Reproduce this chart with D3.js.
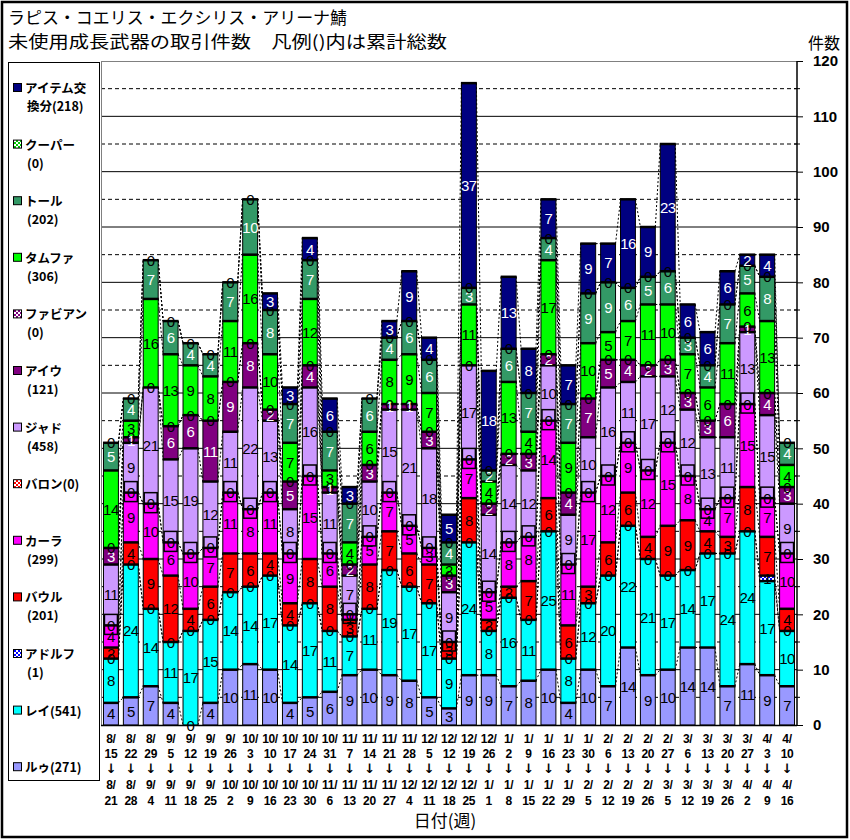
<!DOCTYPE html>
<html><head><meta charset="utf-8">
<script src="https://cdn.jsdelivr.net/npm/d3@7"></script>
<style>body{margin:0;background:#fff}</style>
</head><body><svg id="c" width="850" height="840"></svg>
<script>
const startLabels = ["8/15","8/22","8/29","9/5","9/12","9/19","9/26","10/3","10/10","10/17","10/24","10/31","11/7","11/14","11/21","11/28","12/5","12/12","12/19","12/26","1/2","1/9","1/16","1/23","1/30","2/6","2/13","2/20","2/27","3/6","3/13","3/20","3/27","4/3","4/10"];
const endLabels = ["8/21","8/28","9/4","9/11","9/18","9/25","10/2","10/9","10/16","10/23","10/30","11/6","11/13","11/20","11/27","12/4","12/11","12/18","12/25","1/1","1/8","1/15","1/22","1/29","2/5","2/12","2/19","2/26","3/5","3/12","3/19","3/26","4/2","4/9","4/16"];

// stacking order, bottom to top
const seriesNames = ["ルゥ","レイ","アドルフ","バウル","カーラ","バロン","ジャド","アイウ","ファビアン","タムファ","トール","クーパー","アイテム交換分"];
const ru      = [4,5,7,4,0,4,10,11,10,4,5,6,9,10,9,8,5,3,9,9,7,8,10,4,10,7,14,9,10,14,14,7,11,9,7];
const rei     = [8,24,14,11,17,15,14,14,17,14,17,11,7,11,19,17,17,9,24,8,16,11,25,8,12,20,22,21,17,14,17,24,24,17,10];
const adolf   = [0,0,0,0,0,0,0,0,0,0,0,0,0,0,0,0,0,0,0,0,0,0,0,0,0,0,0,0,0,0,0,0,0,1,0];
const baul    = [2,4,9,12,4,6,7,6,4,4,8,8,3,8,7,6,7,3,8,2,2,7,6,6,3,6,6,4,9,9,4,3,8,7,4];
const kara    = [4,9,10,6,10,7,11,8,11,9,15,6,1,5,7,5,3,0,7,5,8,8,14,11,17,12,9,12,15,8,4,7,15,7,10];
const baron   = [0,0,0,0,0,0,0,0,0,0,0,0,0,0,0,0,0,0,0,0,0,0,0,0,0,0,0,0,0,0,0,0,0,0,0];
const jad     = [11,9,21,15,19,12,11,22,13,8,16,11,7,10,15,21,18,9,17,14,14,12,10,9,10,16,11,17,12,12,13,11,13,15,9];
const aiu     = [3,1,0,6,6,11,9,8,2,5,4,1,2,3,1,1,3,3,0,2,2,3,2,4,7,5,4,2,3,3,3,6,1,4,3];
const fabian  = [0,0,0,0,0,0,0,0,0,0,0,0,0,0,0,0,0,0,0,0,0,0,0,0,0,0,0,0,0,0,0,0,0,0,0];
const tamfa   = [14,3,16,13,9,8,11,16,10,7,12,3,4,6,8,9,7,2,11,4,13,4,17,9,10,5,7,11,10,7,6,11,6,13,4];
const toll    = [5,4,7,6,4,4,7,10,8,7,7,7,7,6,4,6,6,4,3,2,6,7,4,7,9,9,6,5,6,3,4,7,5,8,4];
const cooper  = [0,0,0,0,0,0,0,0,0,0,0,0,0,0,0,0,0,0,0,0,0,0,0,0,0,0,0,0,0,0,0,0,0,0,0];
const item    = [0,0,0,0,0,0,0,0,3,3,4,6,3,0,3,9,4,5,37,18,13,8,7,7,9,7,16,9,23,6,6,6,2,4,0];

const legendLabels = [["アイテム交","換分(218)"],["クーパー","(0)"],["トール","(202)"],["タムファ","(306)"],["ファビアン","(0)"],["アイウ","(121)"],["ジャド","(458)"],["バロン(0)"],["カーラ","(299)"],["バウル","(201)"],["アドルフ","(1)"],["レイ(541)"],["ルゥ(271)"]];
const yTicks = [0,10,20,30,40,50,60,70,80,90,100,110,120];

const values = [ru,rei,adolf,baul,kara,baron,jad,aiu,fabian,tamfa,toll,cooper,item];
const fills = ["#9999FF","#00FFFF","url(#pAdolf)","#FF0000","#FF00FF","url(#pBaron)","#CC99FF","#800080","url(#pFabian)","#00FF00","#339966","url(#pCooper)","#000080"];
const darkText = [false,false,false,false,false,false,false,true,false,false,true,false,true];

const svg = d3.select("#c");
svg.append("rect").attr("width",850).attr("height",840).attr("fill","#fff");

// patterns
const defs = svg.append("defs");
function checker(id, col){
  const p = defs.append("pattern").attr("id",id).attr("width",4).attr("height",4).attr("patternUnits","userSpaceOnUse");
  p.append("rect").attr("width",4).attr("height",4).attr("fill","#fff");
  p.append("rect").attr("width",2).attr("height",2).attr("fill",col);
  p.append("rect").attr("x",2).attr("y",2).attr("width",2).attr("height",2).attr("fill",col);
}
checker("pAdolf","#0000FF"); checker("pBaron","#FF0000"); checker("pFabian","#800080"); checker("pCooper","#00CC00");

// outer frame
svg.append("rect").attr("x",2).attr("y",2).attr("width",845).attr("height",835).attr("fill","none").attr("stroke","#000").attr("stroke-width",2.5);

// title
svg.append("text").attr("x",8).attr("y",24).attr("font-family","Noto Sans CJK JP").attr("font-size",17)
  .attr("textLength",339).attr("lengthAdjust","spacingAndGlyphs").text("ラピス・コエリス・エクシリス・アリーナ鯖");
svg.append("text").attr("x",8).attr("y",48).attr("font-family","Noto Sans CJK JP").attr("font-size",17)
  .attr("textLength",439).attr("lengthAdjust","spacingAndGlyphs").text("未使用成長武器の取引件数　凡例()内は累計総数");

const L = 101, R = 797, T = 61, B = 725;
const x = d3.scaleBand().domain(startLabels).range([L,R]).paddingInner(0.25).paddingOuter(0.125);
const y = d3.scaleLinear().domain([0,120]).range([B,T]);

// gridlines
const g = svg.append("g");
d3.range(5,120,5).forEach(v=>{
  g.append("line").attr("x1",L).attr("x2",R).attr("y1",y(v)).attr("y2",y(v))
   .attr("stroke","#000").attr("stroke-width",1)
   .attr("stroke-dasharray", v%10===0 ? null : "4,3");
});
// plot border
svg.append("line").attr("x1",L).attr("x2",R).attr("y1",T+0.5).attr("y2",T+0.5).attr("stroke","#808080");
svg.append("line").attr("x1",L+0.5).attr("x2",L+0.5).attr("y1",T).attr("y2",B).attr("stroke","#808080");

// stacked data
const stackInput = startLabels.map((d,i)=>{const o={key:d}; seriesNames.forEach((s,k)=>o[s]=values[k][i]); return o;});
const stacked = d3.stack().keys(seriesNames)(stackInput);

// series lines
const sl = svg.append("g");
stacked.forEach(layer=>{
  for(let i=0;i<layer.length-1;i++){
    sl.append("line").attr("x1",x(startLabels[i])+x.bandwidth()).attr("x2",x(startLabels[i+1]))
      .attr("y1",y(layer[i][1])).attr("y2",y(layer[i+1][1]))
      .attr("stroke","#000").attr("stroke-width",1).attr("stroke-dasharray","2,2");
  }
});

// bars
const bars = svg.append("g");
stacked.forEach((layer,k)=>{
  layer.forEach((d,i)=>{
    if(d[1]-d[0] <= 0) return;
    const bx = x(startLabels[i]), bw = x.bandwidth();
    bars.append("rect").attr("x",bx).attr("y",y(d[1])).attr("width",bw).attr("height",y(d[0])-y(d[1]))
      .attr("fill",fills[k]).attr("stroke","#000").attr("stroke-width",1);
  });
});
stacked.forEach((layer,k)=>{
  layer.forEach((d,i)=>{
    if(d[1]-d[0] <= 0) return;
    const bx = x(startLabels[i]), bw = x.bandwidth();
    bars.append("line").attr("x1",bx-0.5).attr("x2",bx+bw+0.5).attr("y1",y(d[1])).attr("y2",y(d[1]))
      .attr("stroke","#000").attr("stroke-width",2.5);
  });
});

// baron zero boxes
stacked.forEach((layer,k)=>{
  if(seriesNames[k]!=="バロン") return;
  layer.forEach((d,i)=>{
    const cx = x(startLabels[i]) + x.bandwidth()/2;
    bars.append("rect").attr("x",cx-6.5).attr("y",y(d[1])-11).attr("width",13).attr("height",20)
      .attr("fill","none").attr("stroke","#000").attr("stroke-width",1.5);
  });
});

// labels
const lab = svg.append("g").attr("font-family","Liberation Sans, Arial, sans-serif").attr("font-size",15)
  .attr("text-anchor","middle").attr("letter-spacing","-0.5");
const zeroSeen = startLabels.map(()=>new Set());
stacked.forEach((layer,k)=>{
  layer.forEach((d,i)=>{
    const v = d[1]-d[0];
    const cx = x(startLabels[i]) + x.bandwidth()/2;
    if(v>0){
      lab.append("text").attr("x",cx).attr("y",(y(d[0])+y(d[1]))/2+5.5)
        .attr("fill",darkText[k]?"#fff":"#000").text(v);
    } else {
      if(zeroSeen[i].has(d[1])) return;
      zeroSeen[i].add(d[1]);
      lab.append("text").attr("x",cx).attr("y",y(d[1])+5.5).attr("fill","#000").text(0);
    }
  });
});

// bottom axis line
svg.append("line").attr("x1",L).attr("x2",R).attr("y1",B+0.5).attr("y2",B+0.5).attr("stroke","#000").attr("stroke-width",1.5);

// right axis
const ax = svg.append("g").attr("transform",`translate(${R},0)`)
  .call(d3.axisRight(y).tickValues(yTicks).tickSize(6).tickPadding(10).tickFormat(d3.format("d")));
ax.select(".domain").attr("stroke","#000").attr("stroke-width",1.5).attr("d",`M0,${T}V${B}`);
ax.selectAll("text").attr("font-family","Liberation Sans, Arial, sans-serif").attr("font-weight","bold").attr("font-size",15).attr("fill","#000");
d3.range(5,120,10).forEach(v=>{
  ax.append("line").attr("x1",-3).attr("x2",3).attr("y1",y(v)).attr("y2",y(v)).attr("stroke","#000");
});
svg.append("text").attr("x",824).attr("y",49).attr("text-anchor","middle").attr("font-family","Noto Sans CJK JP").attr("font-size",16).text("件数");

// x labels
const xl = svg.append("g").attr("font-family","Liberation Sans, DejaVu Sans, sans-serif").attr("font-weight","bold").attr("font-size",12).attr("text-anchor","middle").attr("fill","#000");
startLabels.forEach((s,i)=>{
  const cx = x(s) + x.bandwidth()/2;
  const [sm,sd] = s.split("/"); const [em,ed] = endLabels[i].split("/");
  const t = xl.append("text").attr("x",cx).attr("letter-spacing","-0.3");
  [[sm+"/",743],[sd,758],["↓",773],[em+"/",789],[ed,805]].forEach(([tx,yy])=>{
    const ts = t.append("tspan").attr("x",cx).attr("y",yy).text(tx);
    if(tx==="↓") ts.attr("font-family","DejaVu Sans").attr("font-size",13).attr("fill","#000");
  });
});
svg.append("text").attr("x",445).attr("y",827).attr("text-anchor","middle").attr("font-family","Noto Sans CJK JP").attr("font-size",17).text("日付(週)");

// legend
svg.append("rect").attr("x",8.5).attr("y",62.5).attr("width",91).attr("height",718).attr("fill","#fff").attr("stroke","#000");
const legFills = fills.slice().reverse();
legendLabels.forEach((lines,j)=>{
  const cy = 88 + j*56.6;
  svg.append("rect").attr("x",13.5).attr("y",cy-4.5).attr("width",8).attr("height",8).attr("fill",legFills[j]).attr("stroke","#000");
  lines.forEach((ln,m)=>{
    svg.append("text").attr("x", m===0?25:27).attr("y",cy+5+m*18).attr("font-family","Noto Sans CJK JP").attr("font-weight","bold").attr("font-size",12.5).text(ln);
  });
});
</script></body></html>
